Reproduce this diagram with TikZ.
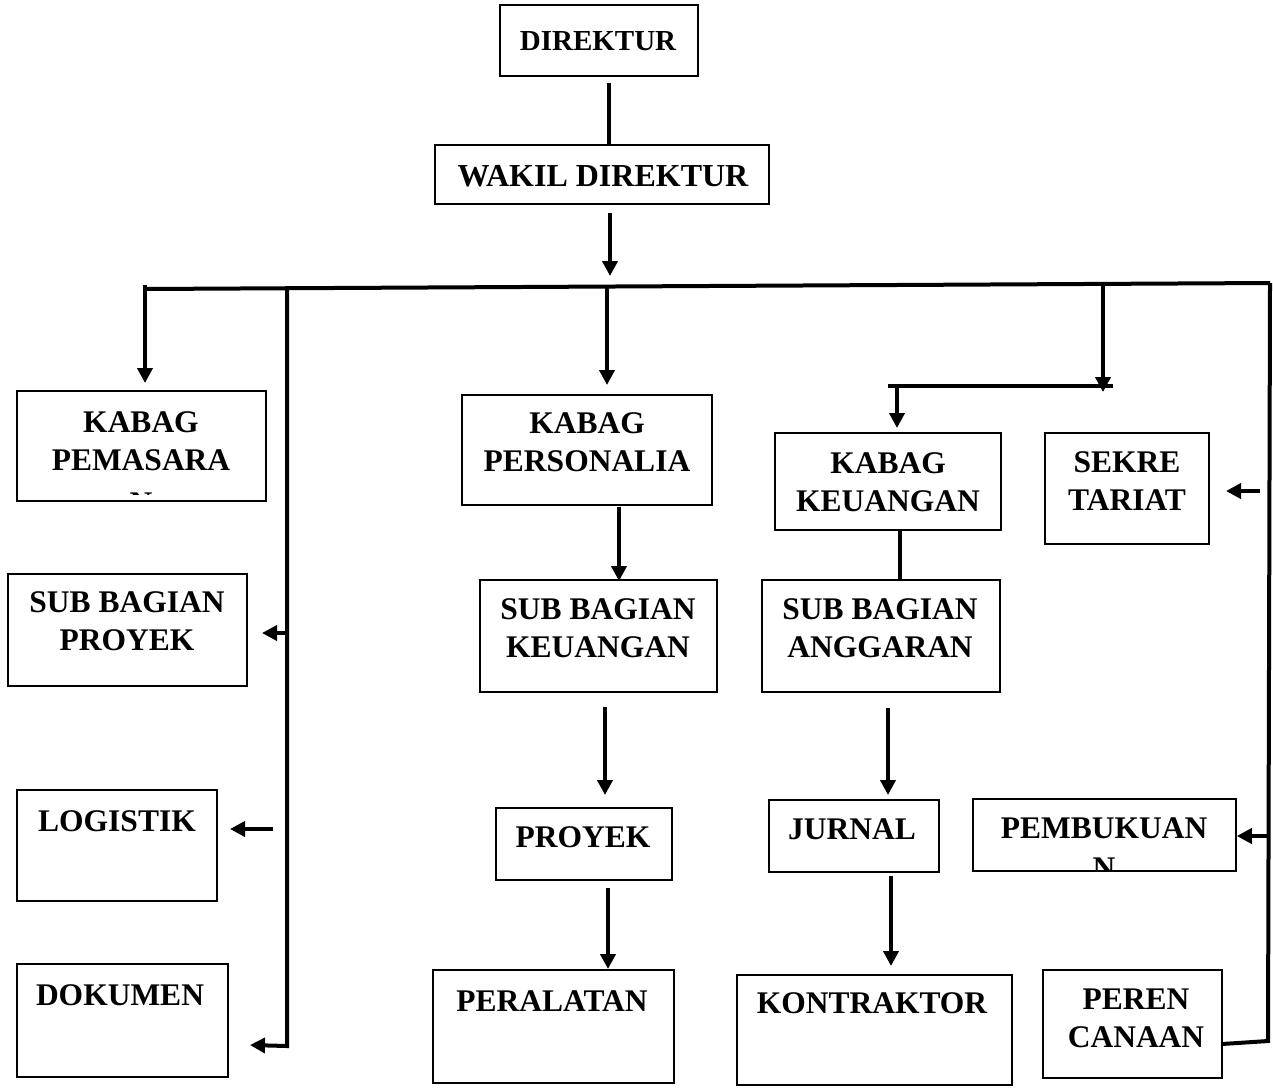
\documentclass[tikz,border=0pt]{standalone}
\usepackage{fontspec}
\setmainfont{Liberation Serif}
\usetikzlibrary{arrows.meta,fit}
\begin{document}
\begin{tikzpicture}[x=0.5pt,y=-0.5pt,
  box/.style={draw, line width=0.8pt, inner sep=0pt},
  lbl/.style={font=\bfseries\fontsize{15.75}{19}\selectfont, align=center, inner sep=0pt},
  conn/.style={line width=2pt},
  arr/.style={line width=2pt, -{Triangle[length=7.5pt,width=7.5pt]}}]
\useasboundingbox (0,0) rectangle (1273,1088);
\fill[white] (0,0) rectangle (1273,1088);

% ---------- boxes ----------
\node[box, fit={(500,5)(698,76)}] (dir) {};
\node[box, fit={(435,145)(769,204)}] (wak) {};
\node[box, fit={(17,391)(266,501)}] (pem) {};
\node[box, fit={(462,395)(712,505)}] (kper) {};
\node[box, fit={(775,433)(1001,530)}] (kkeu) {};
\node[box, fit={(1045,433)(1209,544)}] (sek) {};
\node[box, fit={(8,574)(247,686)}] (sbp) {};
\node[box, fit={(480,580)(717,692)}] (sbk) {};
\node[box, fit={(762,580)(1000,692)}] (sba) {};
\node[box, fit={(17,790)(217,901)}] (log) {};
\node[box, fit={(17,964)(228,1077)}] (dok) {};
\node[box, fit={(496,808)(672,880)}] (pro) {};
\node[box, fit={(433,970)(674,1083)}] (per) {};
\node[box, fit={(769,800)(939,872)}] (jur) {};
\node[box, fit={(737,975)(1012,1085)}] (kon) {};
\node[box, fit={(973,799)(1236,871)}] (pbk) {};
\node[box, fit={(1043,970)(1222,1078)}] (ren) {};

% ---------- labels ----------
\node[lbl, font=\bfseries\fontsize{14.5}{19}\selectfont] (dir-l) at (598,41) {DIREKTUR};
\node[lbl, font=\bfseries\fontsize{16}{19}\selectfont] (wak-l) at (603,176) {WAKIL DIREKTUR};
\node[lbl] (pem-l) at (141,441.5) {KABAG\\PEMASARA};
\begin{scope}
  \clip (17,391) rectangle (266,494);
  \node[lbl, anchor=base] (pem-n) at (141,513) {N};
\end{scope}
\node[lbl] (kper-l) at (587,442) {KABAG\\PERSONALIA};
\node[lbl] (kkeu-l) at (888,482) {KABAG\\KEUANGAN};
\node[lbl] (sek-l) at (1127,481) {SEKRE\\TARIAT};
\node[lbl] (sbp-l) at (127,621.5) {SUB BAGIAN\\PROYEK};
\node[lbl] (sbk-l) at (598,628.5) {SUB BAGIAN\\KEUANGAN};
\node[lbl] (sba-l) at (880,628) {SUB BAGIAN\\ANGGARAN};
\node[lbl] (log-l) at (117,821) {LOGISTIK};
\node[lbl] (dok-l) at (120,995.5) {DOKUMEN};
\node[lbl] (pro-l) at (583,837) {PROYEK};
\node[lbl] (per-l) at (552,1001) {PERALATAN};
\node[lbl] (jur-l) at (852,829) {JURNAL};
\node[lbl] (kon-l) at (872,1003) {KONTRAKTOR};
\node[lbl] (pbk-l) at (1104,828) {PEMBUKUAN};
\begin{scope}
  \clip (973,799) rectangle (1236,871);
  \node[lbl, anchor=base] (pbk-n) at (1104,878) {N};
\end{scope}
\node[lbl] (ren-l) at (1136,1018) {PEREN\\CANAAN};

% ---------- junction coordinates ----------
\coordinate (d1) at (609,83);
\coordinate (w1) at (610,213);
\coordinate (w2) at (610,276);
\coordinate (busL) at (145,289);
\coordinate (busR) at (1270,283);
\coordinate (b1) at (145,285);
\coordinate (b1e) at (145,383);
\coordinate (b2) at (287,286);
\coordinate (b2e) at (287,1046);
\coordinate (dokA) at (250,1045);
\coordinate (sbpJ) at (287,633);
\coordinate (sbpA) at (262,633);
\coordinate (logS) at (273,829);
\coordinate (logA) at (230,829);
\coordinate (b3) at (607,287);
\coordinate (b3e) at (607,385);
\coordinate (k1) at (619,507);
\coordinate (k1e) at (619,581);
\coordinate (k2) at (605,707);
\coordinate (k2e) at (605,795);
\coordinate (k3) at (608,888);
\coordinate (k3e) at (608,969);
\coordinate (b4) at (1103,285);
\coordinate (b4e) at (1103,392);
\coordinate (h1) at (888,386);
\coordinate (h2) at (1113,386);
\coordinate (h3) at (897,386);
\coordinate (h3e) at (897,428);
\coordinate (a1) at (900,531);
\coordinate (a2) at (888,708);
\coordinate (a2e) at (888,795);
\coordinate (a3) at (891,876);
\coordinate (a3e) at (891,966);
\coordinate (sekS) at (1260,491);
\coordinate (sekA) at (1226,491);
\coordinate (pbkJ) at (1268,836);
\coordinate (rb) at (1268,1041);
\coordinate (renE) at (1222,1044);

% ---------- connectors ----------
\draw[conn] (d1) -- (d1 |- wak.north);
\draw[arr] (w1) -- (w2);
\draw[conn] (busL) -- (busR);
\draw[arr] (b1) -- (b1e);
\draw[arr] (b2) -- (b2e) -- (dokA);
\draw[arr] (sbpJ) -- (sbpA);
\draw[arr] (logS) -- (logA);
\draw[arr] (b3) -- (b3e);
\draw[arr] (k1) -- (k1e);
\draw[arr] (k2) -- (k2e);
\draw[arr] (k3) -- (k3e);
\draw[arr] (b4) -- (b4e);
\draw[conn] (h1) -- (h2);
\draw[arr] (h3) -- (h3e);
\draw[conn] (a1) -- (a1 |- sba.north);
\draw[arr] (a2) -- (a2e);
\draw[arr] (a3) -- (a3e);
\draw[arr] (sekS) -- (sekA);
\draw[conn] (busR) -- (rb) -- (renE);
\draw[arr] (pbkJ) -- (pbk.east |- pbkJ);
\end{tikzpicture}
\end{document}
